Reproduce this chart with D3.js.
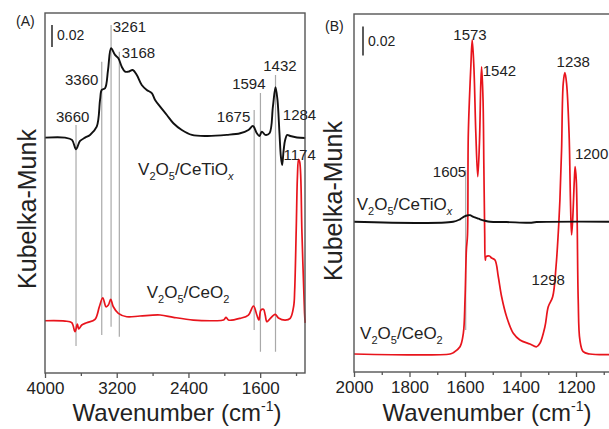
<!DOCTYPE html>
<html>
<head>
<meta charset="utf-8">
<script src="https://cdn.jsdelivr.net/npm/d3@7"></script>
<style>
  body { margin: 0; background: #fff; }
  svg { display: block; font-family: "Liberation Sans", Arial, sans-serif; }
</style>
</head>
<body>
<svg width="609" height="429"></svg>
<script>
// ---- data (wavenumber, Kubelka-Munk value relative to each curve's own baseline) ----

// panel A, V2O5/CeTiOx
const aTiWn  = [4000,3777,3699,3654,3609,3553,3498,3423,3386,3367,3330,3297,3263,3219,3182,3144,3107,3070,3021,2976,2921,2865,2809,2772,2716,2641,2568,2474,2362,2195,1972,1823,1731,1681,1637,1608,1581,1544,1496,1458,1429,1407,1385,1369,1355,1338,1321,1299,1265,1190,1098]
const aTiVal = [0,0,-0.002,-0.0105,-0.003,0,0.0025,0.010,0.0343,0.0434,0.0449,0.0615,0.0813,0.0752,0.0722,0.0645,0.060,0.060,0.0615,0.057,0.0479,0.0434,0.0404,0.0343,0.0282,0.0206,0.0131,0.007,0.0025,0.0015,0.0025,0.004,0.007,0.0106,0.004,0.0015,0.0055,0.0025,0.004,0.0282,0.0458,0.0343,0.0043,-0.0173,-0.0248,-0.0112,-0.002,0.0025,0.0015,0.0002,-0.0003]

// panel A, V2O5/CeO2
const aCeWn  = [4000,3777,3702,3665,3639,3624,3590,3535,3442,3394,3356,3319,3293,3267,3238,3182,3088,2940,2716,2568,2345,2121,2010,1980,1954,1823,1731,1675,1637,1614,1592,1563,1544,1525,1496,1433,1396,1321,1265,1226,1215,1198,1184,1172,1159,1134,1105,1098]
const aCeVal = [0,-0.0003,-0.0018,-0.010,-0.003,-0.0075,-0.0039,-0.0018,0.0013,0.0127,0.0209,0.0127,0.0143,0.0195,0.0127,0.0067,0.0036,0.0043,0.0052,0.0031,0.0006,0,0.0006,0.0031,0.0006,0.0022,0.0052,0.0134,0.0052,0.0006,0.0097,0.0104,0.0052,-0.0009,0.0013,0.0058,0.0025,0.0006,0.0022,0.0134,0.0279,0.0825,0.132,0.1467,0.1443,0.0797,0.007,-0.002]

// panel B, V2O5/CeTiOx
const bTiWn  = [2000,1643,1618,1600,1590,1582,1572,1564,1555,1546,1528,1510,1450,1366,1342,1000]
const bTiVal = [0,0,0.0017,0.0039,0.0044,0.0046,0.0036,0.003,0.0024,0.0017,0.0007,0,-0.0002,-0.0007,-0.0002,0]

// panel B, V2O5/CeO2
const bCeWn  = [2000,1654,1642,1618,1606,1600,1595,1591,1588,1579,1574,1568,1561,1554,1548,1543,1540,1535,1532,1529,1527,1524,1512,1504,1492,1480,1468,1450,1426,1402,1366,1342,1330,1312,1300,1284,1272,1264,1258,1252,1246,1240,1234,1225,1220,1216,1212,1206,1203,1199,1196,1192,1186,1174,1150,1000]
const bCeVal = [0,0,0.0009,0.005,0.0143,0.0372,0.0717,0.0821,0.1522,0.1981,0.2166,0.1981,0.1522,0.1223,0.1453,0.1867,0.1981,0.1752,0.1292,0.0832,0.0648,0.0671,0.0676,0.0662,0.0648,0.0533,0.0395,0.0257,0.0143,0.0097,0.0069,0.005,0.0074,0.0188,0.0326,0.0395,0.0602,0.0832,0.1062,0.1407,0.1867,0.194,0.1867,0.1522,0.1062,0.0821,0.0924,0.12,0.1292,0.12,0.0947,0.0372,0.0097,0.0016,0,0]

// tick labels
const aTicks = [4000, 3200, 2400, 1600]
const aMinor = [3600, 2800, 2000, 1200]
const bTicks = [2000, 1800, 1600, 1400, 1200]
const bMinor = [1900, 1700, 1500, 1300, 1100]

// band positions (gray guide lines): wavenumber, top value, bottom value
const aBands = [[3654,0.1779,-0.023],[3367,0.2355,-0.013],[3263,0.2688,-0.0055],[3171,0.2445,-0.0145],
                [1667,0.1915,-0.0085],[1597,0.207,-0.0282],[1429,0.2234,-0.0282]]
const bBands = [[1597.5,0.1269,0.0166]]

// peak labels: text, wavenumber at text start, value at baseline
const aPeaks = [["3660",3877,0.1809],["3360",3777,0.2143],["3261",3244,0.2627],["3168",3144,0.2385],
                ["1675",2083,0.1809],["1594",1912,0.2104],["1432",1566,0.2273],["1284",1347,0.1825],["1174",1340,0.1461]]
const bPeaks = [["1605",1716,0.1223],["1573",1642,0.2166],["1542",1536,0.1917],["1238",1270,0.1981],
                ["1200",1204,0.1345],["1298",1360,0.0476]]

// vertical offsets of the black curve above the red one
const aOffset = 0.1664
const bOffset = 0.0912

const BLACK = "#111"
const RED = "#e8141c"
const GRAY = "#a9a9a9"

const svg = d3.select("svg")

function drawPanel(p) {
    const x = d3.scaleLinear().domain(p.xDomain).range(p.xRange)
    const y = d3.scaleLinear().domain(p.yDomain).range([p.bottom, p.top])
    const g = svg.append("g")

    // guide lines
    g.selectAll(".band")
        .data(p.bands)
        .enter()
        .append("line")
        .attr("x1", d => x(d[0])).attr("x2", d => x(d[0]))
        .attr("y1", d => y(d[1])).attr("y2", d => y(d[2]))
        .attr("stroke", GRAY)
        .attr("stroke-width", 1.2)

    const line = d3.line()
        .x(d => x(d[0]))
        .y(d => y(d[1]))
        .curve(d3.curveCatmullRom.alpha(0.5))

    // red curve first, black on top
    g.append("path")
        .datum(p.ceWn.map((w, i) => [w, p.ceVal[i]]))
        .attr("d", line)
        .attr("fill", "none")
        .attr("stroke", RED)
        .attr("stroke-width", 1.7)

    g.append("path")
        .datum(p.tiWn.map((w, i) => [w, p.tiVal[i] + p.offset]))
        .attr("d", line)
        .attr("fill", "none")
        .attr("stroke", BLACK)
        .attr("stroke-width", 1.9)

    // frame
    g.append("rect")
        .attr("x", p.xRange[0]).attr("y", p.top)
        .attr("width", p.xRange[1] - p.xRange[0])
        .attr("height", p.bottom - p.top)
        .attr("fill", "none")
        .attr("stroke", "#555")
        .attr("stroke-width", 1.4)

    // bottom axis, major + minor ticks
    const ax = g.append("g")
        .attr("transform", `translate(0, ${p.bottom})`)
        .call(d3.axisBottom(x).tickValues(p.ticks).tickSize(5).tickPadding(4).tickFormat(d3.format("d")))
    ax.select(".domain").remove()
    ax.selectAll("line").attr("stroke", "#555").attr("stroke-width", 1.3)
    ax.selectAll("text")
        .attr("font-size", 17)
        .attr("font-family", "Liberation Sans, Arial, sans-serif")
        .attr("fill", "#222")

    const mx = g.append("g")
        .attr("transform", `translate(0, ${p.bottom})`)
        .call(d3.axisBottom(x).tickValues(p.minor).tickSize(3).tickFormat(""))
    mx.select(".domain").remove()
    mx.selectAll("line").attr("stroke", "#555").attr("stroke-width", 1.3)

    // peak labels
    g.selectAll(".peak")
        .data(p.peaks)
        .enter()
        .append("text")
        .attr("x", d => x(d[1]))
        .attr("y", d => y(d[2]))
        .attr("font-size", 15)
        .attr("fill", "#222")
        .text(d => d[0])

    // 0.02 scale bar
    g.append("line")
        .attr("x1", p.barX).attr("x2", p.barX)
        .attr("y1", y(p.barTop)).attr("y2", y(p.barTop - 0.02))
        .attr("stroke", "#333")
        .attr("stroke-width", 1.6)
    g.append("text")
        .attr("x", p.barX + 5)
        .attr("y", y(p.barTop) + p.barTextDy)
        .attr("font-size", 14)
        .attr("fill", "#222")
        .text("0.02")

    // series names
    function seriesLabel(wn, v, last, lastSub) {
        const t = g.append("text")
            .attr("x", x(wn)).attr("y", y(v))
            .attr("font-size", 17)
            .attr("fill", "#222")
        t.append("tspan").text("V")
        t.append("tspan").attr("font-size", 11).attr("dy", 5).text("2")
        t.append("tspan").attr("dy", -5).text("O")
        t.append("tspan").attr("font-size", 11).attr("dy", 5).text("5")
        t.append("tspan").attr("dy", -5).text("/" + last)
        const s = t.append("tspan").attr("font-size", 11).attr("dy", 5).text(lastSub)
        if (lastSub === "x") s.attr("font-style", "italic")
    }
    seriesLabel(p.tiLabel[0], p.tiLabel[1], "CeTiO", "x")
    seriesLabel(p.ceLabel[0], p.ceLabel[1], "CeO", "2")

    // panel letter
    svg.append("text")
        .attr("x", p.letterX).attr("y", p.letterY)
        .attr("font-size", 14)
        .attr("fill", "#222")
        .text(p.letter)

    // axis titles
    svg.append("text")
        .attr("transform", `translate(${p.yTitleX}, ${p.yTitleY}) rotate(-90)`)
        .attr("text-anchor", "middle")
        .attr("font-size", 25)
        .attr("fill", "#222")
        .text("Kubelka-Munk")

    const xt = svg.append("text")
        .attr("x", p.xTitleX).attr("y", 421)
        .attr("text-anchor", "middle")
        .attr("font-size", 24)
        .attr("fill", "#222")
    xt.append("tspan").text("Wavenumber (cm")
    xt.append("tspan").attr("font-size", 14).attr("dy", -10).text("-1")
    xt.append("tspan").attr("dy", 10).text(")")
}

drawPanel({
    xDomain: [4000, 1100], xRange: [45, 305], yDomain: [-0.0475, 0.2797], top: 13, bottom: 373,
    tiWn: aTiWn, tiVal: aTiVal, ceWn: aCeWn, ceVal: aCeVal, offset: aOffset,
    ticks: aTicks, minor: aMinor, bands: aBands, peaks: aPeaks,
    barX: 52, barTop: 0.2688, barTextDy: 15,
    tiLabel: [2962, 0.1325], ceLabel: [2865, 0.0206],
    letter: "(A)", letterX: 16, letterY: 26,
    yTitleX: 36, yTitleY: 209, xTitleX: 177
})

drawPanel({
    xDomain: [2000, 1000], xRange: [354, 631.5], yDomain: [-0.0124, 0.2345], top: 14, bottom: 372,
    tiWn: bTiWn, tiVal: bTiVal, ceWn: bCeWn, ceVal: bCeVal, offset: bOffset,
    ticks: bTicks, minor: bMinor, bands: bBands, peaks: bPeaks,
    barX: 363, barTop: 0.2258, barTextDy: 19,
    tiLabel: [1990, 0.0993], ceLabel: [1978, 0.0103],
    letter: "(B)", letterX: 325, letterY: 31,
    yTitleX: 342, yTitleY: 201, xTitleX: 487
})
</script>
</body>
</html>
